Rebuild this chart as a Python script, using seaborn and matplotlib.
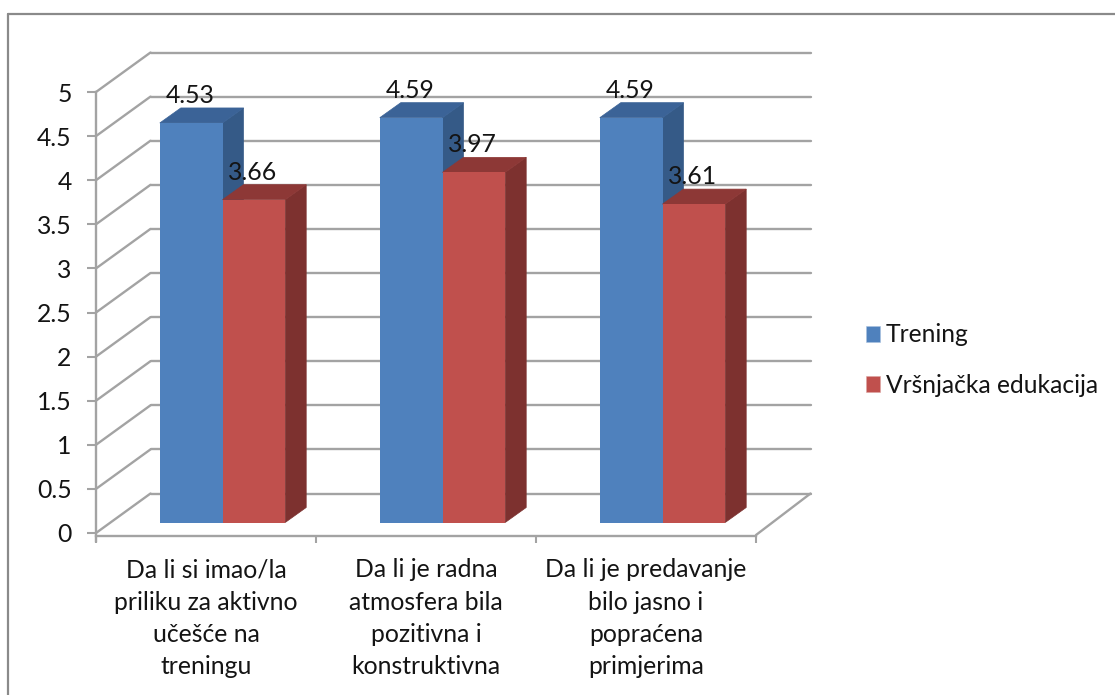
import pandas as pd
import seaborn as sns
import matplotlib.pyplot as plt
from matplotlib.lines import Line2D
from matplotlib.patches import Patch, Polygon
from matplotlib.transforms import Affine2D, IdentityTransform

# Vrijednosti sa grafikona
pitanja = ['Da li si imao/la\npriliku za aktivno\nučešće na\ntreningu',
           'Da li je radna\natmosfera bila\npozitivna i\nkonstruktivna',
           'Da li je predavanje\nbilo jasno i\npopraćena\nprimjerima']
trening = [4.53, 4.59, 4.59]
vrsnjacka = [3.66, 3.97, 3.61]
serije = ['Trening', 'Vršnjačka edukacija']
y_ticks = [0, 0.5, 1, 1.5, 2, 2.5, 3, 3.5, 4, 4.5, 5]
y_labels = ['0', '0.5', '1', '1.5', '2', '2.5', '3', '3.5', '4', '4.5', '5']

boje = ['#4F81BD', '#C0504D']
boje_bok = ['#355A87', '#7D312F']
boje_vrh = ['#3B6397', '#8D3836']
siva = '#A3A3A3'
tekst = '#141414'

W, H = 1115, 695

sns.set_style('white')
plt.rcParams['font.family'] = ['Lato', 'DejaVu Sans']

fig = plt.figure(figsize=(W / 100, H / 100), dpi=100)
ax = fig.add_axes([96 / W, 1 - 533 / H, 660 / W, 441 / H])

df = pd.DataFrame({
    'pitanje': pitanja * 2,
    'serija': [serije[0]] * 3 + [serije[1]] * 3,
    'ocjena': trening + vrsnjacka,
})
sns.barplot(data=df, x='pitanje', y='ocjena', hue='serija', palette=boje,
            width=0.57, gap=0, legend=False, saturation=1, errorbar=None,
            linewidth=0, ax=ax)

ax.set_xlim(-0.5, 2.5)
ax.set_ylim(0, 5)
ax.set_xlabel('')
ax.set_ylabel('')


def pomak(dx, dy):
    # pomak u pikselima, za lazni 3D izgled
    return ax.transData + Affine2D().translate(dx, dy)


# zadnji zid i pod
zid = pomak(54.5, 39.5)
for y in y_ticks:
    ax.plot([-0.5, 2.5], [y, y], color=siva, lw=1.7, transform=zid, clip_on=False, zorder=1)
    x0, y0 = ax.transData.transform((-0.5, y))
    x1, y1 = zid.transform((-0.5, y))
    ax.plot([x0, x1], [y0, y1], color=siva, lw=1.7, transform=IdentityTransform(),
            clip_on=False, zorder=1)
x0, y0 = ax.transData.transform((2.5, 0))
x1, y1 = zid.transform((2.5, 0))
ax.plot([x0, x1], [y0 - 2, y1], color=siva, lw=1.7, transform=IdentityTransform(),
        clip_on=False, zorder=1)

# stupci: prednja strana ide iz seaborna, bok i vrh se racunaju iz nje
BAZA_X, BAZA_Y = 16.5, 10.5
DUB_X, DUB_Y = 21, 15
red = 3
for k, kont in enumerate(ax.containers):
    for bar in kont:
        x, w, h = bar.get_x(), bar.get_width(), bar.get_height()
        t = pomak(BAZA_X, BAZA_Y)
        (xl, yb), (xr, yt) = t.transform([(x, 0), (x + w, h)])
        bok = [(xr, yb), (xr + DUB_X, yb + DUB_Y), (xr + DUB_X, yt + DUB_Y), (xr, yt)]
        vrh = [(xl, yt), (xl + DUB_X, yt + DUB_Y), (xr + DUB_X, yt + DUB_Y), (xr, yt)]
        for pts, c in [(bok, boje_bok[k]), (vrh, boje_vrh[k])]:
            ax.add_patch(Polygon(pts, closed=True, fc=c, ec=c, lw=0.5, clip_on=False,
                                 transform=IdentityTransform(), zorder=red))
        bar.set_transform(t)
        bar.set_clip_on(False)
        bar.set_zorder(red + 1)
        red += 2
        ax.annotate(f'{h:.2f}', xy=((xl + xr) / 2 - 1, yt),
                    xycoords=IdentityTransform(), xytext=(0, 20 * 0.72), textcoords='offset points',
                    ha='center', va='baseline', fontsize=17.8, color=tekst, zorder=30)

# osovine
sns.despine(ax=ax, top=True, right=True)
ax.spines['left'].set_color(siva)
ax.spines['left'].set_linewidth(1.7)
ax.spines['left'].set_bounds(-0.09, 5)
ax.spines['bottom'].set_color(siva)
ax.spines['bottom'].set_linewidth(1.7)
ax.spines['bottom'].set_position(('outward', 2))
ax.set_yticks(y_ticks)
ax.set_yticklabels(y_labels, fontsize=17.8, color=tekst)
ax.tick_params(axis='y', left=True, length=6.5, width=1.5, color=siva, pad=11)
ax.set_xticks([-0.5, 0.5, 1.5, 2.5])
ax.set_xticklabels(['', '', '', ''])
ax.tick_params(axis='x', which='major', bottom=True, length=5, width=1.5, color=siva)
ax.set_xticks([0, 1, 2], minor=True)
ax.set_xticklabels(pitanja, minor=True, fontsize=17.8, color=tekst, linespacing=1.5)
ax.tick_params(axis='x', which='minor', bottom=False, length=0, pad=16)

# legenda
rucke = [Patch(fc=boje[0], ec='#A9C2E0', lw=0.4), Patch(fc=boje[1], ec='#DDA5A3', lw=0.4)]
fig.legend(rucke, serije, loc='center left', bbox_to_anchor=(846 / W, 1 - 360 / H),
           frameon=False, fontsize=17.7, handlelength=0.6, handleheight=0.6,
           handletextpad=0.22, labelspacing=1.1, labelcolor=tekst, borderpad=0.3)

# okvir: samo gore i lijevo
for xs, ys in [((8, 8), (695, 14)), ((8, 1115), (14, 14))]:
    fig.add_artist(Line2D([x / W for x in xs], [1 - y / H for y in ys], color='#8A8A8A',
                          lw=1.6, transform=fig.transFigure))

fig.savefig('out.png', dpi=100)
